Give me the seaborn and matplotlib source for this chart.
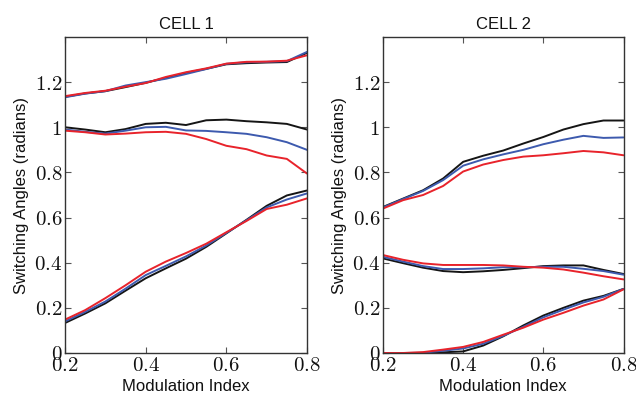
import numpy as np
import pandas as pd
import matplotlib
matplotlib.use("Agg")
import matplotlib.pyplot as plt
import seaborn as sns

# ---------------- data ----------------
mod_index = [0.20, 0.25, 0.30, 0.35, 0.40, 0.45, 0.50, 0.55, 0.60, 0.65, 0.70, 0.75, 0.80]

# CELL 1
c1_top_black = [1.135, 1.150, 1.160, 1.178, 1.197, 1.219, 1.241, 1.259, 1.279, 1.284, 1.287, 1.289, 1.330]
c1_top_blue  = [1.133, 1.149, 1.160, 1.185, 1.200, 1.215, 1.236, 1.258, 1.281, 1.288, 1.290, 1.293, 1.334]
c1_top_red   = [1.138, 1.152, 1.162, 1.180, 1.196, 1.223, 1.244, 1.261, 1.282, 1.290, 1.291, 1.295, 1.319]
c1_mid_black = [1.000, 0.990, 0.978, 0.992, 1.015, 1.020, 1.010, 1.031, 1.034, 1.027, 1.022, 1.015, 0.990]
c1_mid_blue  = [0.990, 0.980, 0.972, 0.985, 1.000, 1.002, 0.986, 0.984, 0.978, 0.971, 0.956, 0.934, 0.900]
c1_mid_red   = [0.985, 0.978, 0.968, 0.972, 0.978, 0.980, 0.971, 0.948, 0.918, 0.903, 0.875, 0.860, 0.795]
c1_low_black = [0.133, 0.175, 0.220, 0.276, 0.331, 0.375, 0.418, 0.470, 0.530, 0.590, 0.652, 0.698, 0.720]
c1_low_blue  = [0.140, 0.182, 0.228, 0.285, 0.345, 0.386, 0.428, 0.476, 0.532, 0.588, 0.645, 0.680, 0.707]
c1_low_red   = [0.148, 0.190, 0.243, 0.300, 0.360, 0.405, 0.443, 0.484, 0.535, 0.585, 0.638, 0.657, 0.685]

# CELL 2
c2_top_black = [0.647, 0.684, 0.721, 0.773, 0.847, 0.874, 0.897, 0.928, 0.957, 0.990, 1.014, 1.030, 1.030]
c2_top_blue  = [0.645, 0.682, 0.718, 0.766, 0.830, 0.858, 0.880, 0.900, 0.925, 0.945, 0.962, 0.953, 0.955]
c2_top_red   = [0.640, 0.677, 0.700, 0.740, 0.804, 0.835, 0.855, 0.870, 0.876, 0.885, 0.895, 0.889, 0.876]
c2_mid_black = [0.419, 0.398, 0.378, 0.363, 0.358, 0.362, 0.368, 0.376, 0.385, 0.388, 0.388, 0.368, 0.350]
c2_mid_blue  = [0.426, 0.405, 0.385, 0.372, 0.372, 0.375, 0.380, 0.380, 0.382, 0.382, 0.373, 0.363, 0.347]
c2_mid_red   = [0.434, 0.413, 0.397, 0.390, 0.390, 0.390, 0.388, 0.382, 0.378, 0.370, 0.356, 0.340, 0.326]
c2_low_black = [0.000, 0.000, 0.000, 0.003, 0.007, 0.033, 0.074, 0.122, 0.166, 0.200, 0.232, 0.253, 0.284]
c2_low_blue  = [0.000, 0.000, 0.001, 0.010, 0.020, 0.041, 0.076, 0.116, 0.158, 0.192, 0.224, 0.249, 0.284]
c2_low_red   = [0.000, 0.000, 0.004, 0.015, 0.027, 0.049, 0.081, 0.112, 0.148, 0.178, 0.210, 0.237, 0.282]

cell_titles = ["CELL 1", "CELL 2"]
x_ticks = [0.2, 0.4, 0.6, 0.8]
x_tick_labels = ["0.2", "0.4", "0.6", "0.8"]
y_ticks = [0, 0.2, 0.4, 0.6, 0.8, 1.0, 1.2]
y_tick_labels = ["0", "0.2", "0.4", "0.6", "0.8", "1", "1.2"]

series = {
    "CELL 1": {
        "top": {"black": c1_top_black, "blue": c1_top_blue, "red": c1_top_red},
        "mid": {"black": c1_mid_black, "blue": c1_mid_blue, "red": c1_mid_red},
        "low": {"black": c1_low_black, "blue": c1_low_blue, "red": c1_low_red},
    },
    "CELL 2": {
        "top": {"black": c2_top_black, "blue": c2_top_blue, "red": c2_top_red},
        "mid": {"black": c2_mid_black, "blue": c2_mid_blue, "red": c2_mid_red},
        "low": {"black": c2_low_black, "blue": c2_low_blue, "red": c2_low_red},
    },
}

rows = []
for cell, groups in series.items():
    for curve, methods in groups.items():
        for method, vals in methods.items():
            for xv, yv in zip(mod_index, vals):
                rows.append({"cell": cell, "curve": curve, "method": method, "x": xv, "y": yv})
df = pd.DataFrame(rows)

# ---------------- style ----------------
sns.set_theme(style="white")
plt.rcParams["font.family"] = ["Liberation Sans", "DejaVu Sans"]
plt.rcParams["mathtext.fontset"] = "cm"

palette = {"black": "#151515", "blue": "#3d5aae", "red": "#e8232b"}

fig = plt.figure(figsize=(6.36, 3.96), dpi=100)
positions = [
    [65 / 636, 1 - 353 / 396, (307 - 65) / 636, (353 - 37) / 396],
    [383 / 636, 1 - 353 / 396, (623.5 - 383) / 636, (353 - 37) / 396],
]

for pos, cell in zip(positions, cell_titles):
    ax = fig.add_axes(pos)
    sub = df[df["cell"] == cell]
    sns.lineplot(data=sub, x="x", y="y", hue="method", units="curve",
                 estimator=None, palette=palette,
                 hue_order=["black", "blue", "red"],
                 legend=False, linewidth=1.4, ax=ax, sort=False)
    ax.set_xlim(0.2, 0.8)
    ax.set_ylim(0, 1.4)
    ax.set_xticks(x_ticks)
    ax.set_xticklabels([f"${t}$" for t in x_tick_labels])
    ax.set_yticks(y_ticks)
    ax.set_yticklabels([f"${t}$" for t in y_tick_labels])
    ax.tick_params(axis="both", which="both", direction="in", length=4, width=0.8,
                   color="#555555", labelsize=15, top=True, right=True,
                   bottom=True, left=True, pad=2, labelcolor="#111111")
    for sp in ax.spines.values():
        sp.set_visible(True)
        sp.set_color("#333333")
        sp.set_linewidth(1.0)
    ax.set_title(cell, fontsize=12, pad=6, color="#111111")
    ax.set_xlabel("Modulation Index", fontsize=12, labelpad=3, color="#111111")
    ax.set_ylabel("Switching Angles (radians)", fontsize=12, labelpad=4, color="#111111")

fig.savefig("out.png", dpi=100)
